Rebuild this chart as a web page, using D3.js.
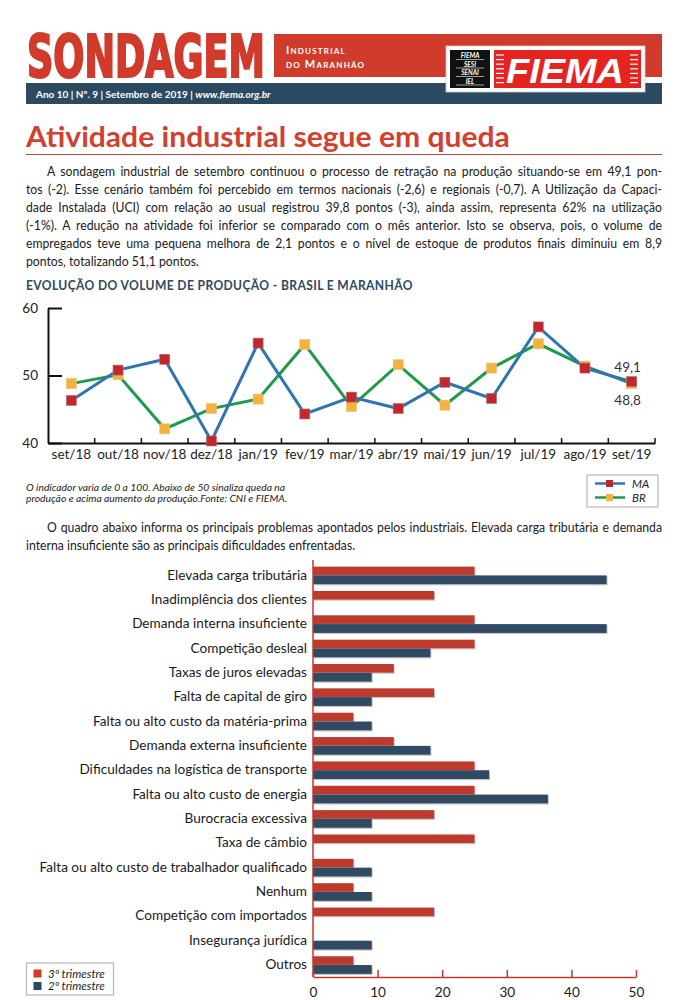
<!DOCTYPE html>
<html><head><meta charset="utf-8">
<script src="https://cdn.jsdelivr.net/npm/d3@7"></script>
<style>body{margin:0;background:#fff} svg{display:block}</style>
</head><body><svg id="c" width="678" height="1000"></svg>
<script>
// ---------- DATA ----------
const months = ["set/18","out/18","nov/18","dez/18","jan/19","fev/19","mar/19","abr/19","mai/19","jun/19","jul/19","ago/19","set/19"];
const maValues = [46.3, 50.8, 52.4, 40.3, 54.8, 44.3, 46.8, 45.1, 49.0, 46.6, 57.2, 51.1, 49.1];
const brValues = [48.8, 50.1, 42.1, 45.1, 46.5, 54.6, 45.4, 51.6, 45.6, 51.1, 54.7, 51.4, 48.8];
const lineYTicks = [40, 50, 60];
const lastLabels = ["49,1", "48,8"];
const seriesNames = ["MA", "BR"];

const problems = ["Elevada carga tributária","Inadimplência dos clientes","Demanda interna insuficiente","Competição desleal","Taxas de juros elevadas","Falta de capital de giro","Falta ou alto custo da matéria-prima","Demanda externa insuficiente","Dificuldades na logística de transporte","Falta ou alto custo de energia","Burocracia excessiva","Taxa de câmbio","Falta ou alto custo de trabalhador qualificado","Nenhum","Competição com importados","Insegurança jurídica","Outros"];
const q3Values = [25, 18.75, 25, 25, 12.5, 18.75, 6.25, 12.5, 25, 25, 18.75, 25, 6.25, 6.25, 18.75, 0, 6.25];
const q2Values = [45.45, 0, 45.45, 18.18, 9.09, 9.09, 9.09, 18.18, 27.27, 36.36, 9.09, 0, 9.09, 9.09, 0, 9.09, 9.09];
const barTicks = [0, 10, 20, 30, 40, 50];
const quarterNames = ["3º trimestre", "2º trimestre"];

const introLines = [
 "A sondagem industrial de setembro continuou o processo de retração na produção situando-se em 49,1 pon-",
 "tos (-2). Esse cenário também foi percebido em termos nacionais (-2,6) e regionais (-0,7). A Utilização da Capaci-",
 "dade Instalada (UCI) com relação ao usual registrou 39,8 pontos (-3), ainda assim, representa 62% na utilização",
 "(-1%). A redução na atividade foi inferior se comparado com o mês anterior. Isto se observa, pois, o volume de",
 "empregados teve uma pequena melhora de 2,1 pontos e o nível de estoque de produtos finais diminuiu em 8,9",
 "pontos, totalizando 51,1 pontos."
];
const quadroLines = [
 "O quadro abaixo informa os principais problemas apontados pelos industriais. Elevada carga tributária e demanda",
 "interna insuficiente são as principais dificuldades enfrentadas."
];
const captionLines = [
 "O indicador varia de 0 a 100. Abaixo de 50 sinaliza queda na",
 "produção e acima aumento da produção.Fonte: CNI e FIEMA."
];

// ---------- STYLE ----------
const RED = "#d13b2c", NAVY = "#2b4a61";
const FONT = "Lato, 'Open Sans', sans-serif";
const svg = d3.select("#c");
svg.append("rect").attr("width",678).attr("height",1000).attr("fill","#fff");

// fit a text horizontally to a width with a transform (keeps real text)
function fitText(t, x, y, width){
  const w = t.node().getComputedTextLength();
  t.attr("x",0).attr("y",0).attr("transform",`translate(${x},${y}) scale(${width/w},1)`);
  return t;
}

// ---------- HEADER ----------
const hdr = svg.append("g");
fitText(hdr.append("text").text("SONDAGEM")
  .attr("font-family","'DejaVu Sans Condensed','DejaVu Sans',sans-serif").attr("font-weight","bold")
  .attr("font-size",58).attr("fill",RED).attr("stroke",RED).attr("stroke-width",2.2), 27, 77, 238);
hdr.append("rect").attr("x",274).attr("y",34).attr("width",388).attr("height",43).attr("fill",RED);
hdr.append("rect").attr("x",26).attr("y",83).attr("width",636).attr("height",21).attr("fill",NAVY);
hdr.append("text").attr("x",286).attr("y",53.5).text("Industrial")
  .attr("font-family",FONT).attr("font-weight","bold").attr("font-size",11).attr("fill","#fff")
  .attr("font-variant","small-caps").attr("letter-spacing",1.2);
hdr.append("text").attr("x",286).attr("y",68).text("do Maranhão")
  .attr("font-family",FONT).attr("font-weight","bold").attr("font-size",11).attr("fill","#fff")
  .attr("font-variant","small-caps").attr("letter-spacing",1.2);
const sub = hdr.append("text").attr("x",36).attr("y",97.5).attr("font-family",FONT).attr("font-weight","bold")
  .attr("font-size",10).attr("fill","#fff");
sub.append("tspan").text("Ano 10 | Nº. 9 | Setembro de 2019 | ");
sub.append("tspan").attr("font-style","italic").text("www.fiema.org.br");
// FIEMA logo
hdr.append("rect").attr("x",446).attr("y",46).attr("width",199).attr("height",46).attr("fill","#fff")
  .attr("stroke","#ccc").attr("stroke-width",0.8);
hdr.append("rect").attr("x",450).attr("y",50).attr("width",40).attr("height",38).attr("fill","#111");
["FIEMA","SESI","SENAI","IEL"].forEach((t,i)=>{
  hdr.append("text").attr("x",470).attr("y",58+i*8.5).attr("text-anchor","middle").text(t)
    .attr("font-family",FONT).attr("font-weight","bold").attr("font-style","italic").attr("font-size",6.5).attr("fill","#fff");
  hdr.append("line").attr("x1",456).attr("x2",484).attr("y1",59.5+i*8.5).attr("y2",59.5+i*8.5).attr("stroke","#fff").attr("stroke-width",0.6);
});
hdr.append("rect").attr("x",494).attr("y",50).attr("width",147).attr("height",38).attr("fill","#e52421");
d3.range(7).forEach(i=>{
  const yy = 55 + i*4.6;
  hdr.append("line").attr("x1",496).attr("x2",504).attr("y1",yy).attr("y2",yy).attr("stroke","#fff").attr("stroke-width",1.2);
  hdr.append("line").attr("x1",630).attr("x2",638).attr("y1",yy).attr("y2",yy).attr("stroke","#fff").attr("stroke-width",1.2);
});
fitText(hdr.append("text").text("FIEMA")
  .attr("font-family","'Liberation Sans',Arial,sans-serif").attr("font-weight","bold").attr("font-style","italic")
  .attr("font-size",36).attr("fill","#fff"), 506, 83, 118);

// ---------- TITLE ----------
fitText(svg.append("text").text("Atividade industrial segue em queda")
  .attr("font-family",FONT).attr("font-weight","bold").attr("font-size",29).attr("fill","#d2402f"), 26, 147, 484);
svg.append("line").attr("x1",26).attr("x2",662).attr("y1",154.5).attr("y2",154.5).attr("stroke","#b5493c").attr("stroke-width",1.2);

// justified paragraphs: horizontally condensed (Calibri-like width), word-spaced to fill the column
const PSIZE = 13.6, RIGHT = 662, INDENT = 21, SQUEEZE = 0.9;
function paragraph(lines, y0, lh){
  lines.forEach((ln,i)=>{
    const x0 = i===0 ? 26+INDENT : 26;
    const t = svg.append("text").attr("x",0).attr("y",0).text(ln)
      .attr("transform",`translate(${x0},${y0+i*lh}) scale(${SQUEEZE},1)`)
      .attr("font-family",FONT).attr("font-size",PSIZE).attr("fill","#1a1a1a");
    if (i < lines.length-1){
      const w = t.node().getComputedTextLength();
      const n = (ln.match(/ /g)||[]).length;
      if (n>0) t.attr("word-spacing", ((RIGHT - x0)/SQUEEZE - w)/n);
    }
  });
}
paragraph(introLines, 176, 18);

// ---------- LINE CHART ----------
fitText(svg.append("text").text("EVOLUÇÃO DO VOLUME DE PRODUÇÃO - BRASIL E MARANHÃO")
  .attr("font-family",FONT).attr("font-weight","bold").attr("font-size",13).attr("fill","#2c4a63")
  .attr("letter-spacing",0.4), 26, 290, 387);

const x = d3.scaleBand().domain(months).range([48,655]);
const y = d3.scaleLinear().domain([40,60]).range([443,308]);
const cx = d => x(d) + x.bandwidth()/2;

const yAx = svg.append("g").attr("transform","translate(48,0)")
  .call(d3.axisLeft(y).tickValues(lineYTicks).tickSize(-14).tickSizeOuter(0).tickPadding(10).tickFormat(d3.format("d")));
yAx.select(".domain").attr("stroke","#111").attr("stroke-width",2);
yAx.selectAll(".tick line").attr("stroke","#111").attr("stroke-width",2);
yAx.selectAll("text").attr("font-family",FONT).attr("font-size",13.5).attr("fill","#222");

const xAx = svg.append("g").attr("transform","translate(0,443)")
  .call(d3.axisBottom(x).tickSize(0).tickSizeOuter(0).tickPadding(6));
xAx.select(".domain").attr("stroke","#111").attr("stroke-width",2);
xAx.selectAll("text").attr("font-family",FONT).attr("font-size",13.5).attr("fill","#222");
svg.append("g").selectAll("line").data(months.slice(1)).join("line")
  .attr("x1",d=>x(d)).attr("x2",d=>x(d)).attr("y1",443).attr("y2",438)
  .attr("stroke","#111").attr("stroke-width",1.5);
svg.append("line").attr("x1",x.range()[1]).attr("x2",x.range()[1]).attr("y1",443).attr("y2",438).attr("stroke","#111").attr("stroke-width",1.5);

const line = d3.line().x((d,i)=>cx(months[i])).y(d=>y(d));
svg.append("path").datum(brValues).attr("d",line).attr("fill","none").attr("stroke","#1f9a47").attr("stroke-width",3);
svg.append("path").datum(maValues).attr("d",line).attr("fill","none").attr("stroke","#2e74b5").attr("stroke-width",3);
const MS = 10;
svg.append("g").selectAll("rect").data(brValues).join("rect")
  .attr("x",(d,i)=>cx(months[i])-MS/2).attr("y",d=>y(d)-MS/2).attr("width",MS).attr("height",MS)
  .attr("fill","#f4b23e").attr("stroke","#e8c27a").attr("stroke-width",0.6);
svg.append("g").selectAll("rect").data(maValues).join("rect")
  .attr("x",(d,i)=>cx(months[i])-MS/2).attr("y",d=>y(d)-MS/2).attr("width",MS).attr("height",MS)
  .attr("fill","#c1272d").attr("stroke","#b07070").attr("stroke-width",0.6);

const lastI = months.length-1;
svg.append("text").attr("x",cx(months[lastI])-4).attr("y",y(maValues[lastI])-10).attr("text-anchor","middle")
  .text(lastLabels[0]).attr("font-family",FONT).attr("font-size",13.5).attr("fill","#333");
svg.append("text").attr("x",cx(months[lastI])-4).attr("y",y(brValues[lastI])+21).attr("text-anchor","middle")
  .text(lastLabels[1]).attr("font-family",FONT).attr("font-size",13.5).attr("fill","#333");

// caption
captionLines.forEach((t,i)=>{
  svg.append("text").attr("x",26).attr("y",491+i*11).text(t)
    .attr("font-family",FONT).attr("font-style","italic").attr("font-size",10.3).attr("fill","#222");
});
// legend
const lg = svg.append("g");
lg.append("rect").attr("x",587).attr("y",475).attr("width",71).attr("height",32).attr("fill","#fff")
  .attr("stroke","#b8b8b8").attr("stroke-width",1.2);
[["#2e74b5","#c1272d"],["#1f9a47","#f4b23e"]].forEach((c,i)=>{
  const yy = 483.5 + i*14;
  lg.append("line").attr("x1",595).attr("x2",625).attr("y1",yy).attr("y2",yy).attr("stroke",c[0]).attr("stroke-width",2.5);
  lg.append("rect").attr("x",606).attr("y",yy-3.5).attr("width",7).attr("height",7).attr("fill",c[1]);
  lg.append("text").attr("x",632).attr("y",yy+4).text(seriesNames[i])
    .attr("font-family",FONT).attr("font-style","italic").attr("font-size",11.5).attr("fill","#222");
});

paragraph(quadroLines, 532, 18);

// ---------- BAR CHART ----------
const yb = d3.scaleBand().domain(problems).range([563,977]);
const xb = d3.scaleLinear().domain([0,50]).range([313,636]);
const bars = svg.append("g");
function barSet(vals, off, h, color){
  bars.append("g").selectAll("rect.s").data(vals).join("rect")
    .attr("x",xb(0)+1).attr("y",(d,i)=>yb(problems[i])+off+1.2)
    .attr("width",d=> d>0 ? xb(d)-xb(0) : 0).attr("height",h).attr("fill","#c8c8c8");
  bars.append("g").selectAll("rect.b").data(vals).join("rect")
    .attr("x",xb(0)).attr("y",(d,i)=>yb(problems[i])+off)
    .attr("width",d=>xb(d)-xb(0)).attr("height",h).attr("fill",color);
}
barSet(q3Values, 3.6, 8.6, "#bd3a2d");
barSet(q2Values, 12.4, 8.8, "#2f4a62");

const ybAx = svg.append("g").attr("transform","translate(313,0)")
  .call(d3.axisLeft(yb).tickSize(0).tickSizeOuter(0).tickPadding(6));
ybAx.select(".domain").attr("stroke","#c0392b").attr("stroke-width",1.5).attr("d","M0,560V977");
ybAx.selectAll("text").attr("font-family",FONT).attr("font-size",13.6).attr("fill","#1a1a1a");

const xbAx = svg.append("g").attr("transform","translate(0,977)")
  .call(d3.axisBottom(xb).tickValues(barTicks).tickSize(-7).tickSizeOuter(0).tickPadding(10).tickFormat(d3.format("d")));
xbAx.select(".domain").attr("stroke","#c0392b").attr("stroke-width",1.5);
xbAx.selectAll(".tick line").attr("stroke","#c0392b").attr("stroke-width",1.5);
xbAx.selectAll("text").attr("font-family",FONT).attr("font-size",13.6).attr("fill","#1a1a1a");

// bar legend
const bl = svg.append("g");
bl.append("rect").attr("x",26.5).attr("y",963).attr("width",87).attr("height",32).attr("fill","#fff")
  .attr("stroke","#b8b8b8").attr("stroke-width",1.2);
["#d13b2c","#2b4a61"].forEach((c,i)=>{
  const yy = 973.5 + i*12.5;
  bl.append("rect").attr("x",33.5).attr("y",yy-4).attr("width",8).attr("height",8).attr("fill",c);
  bl.append("text").attr("x",48).attr("y",yy+4).text(quarterNames[i])
    .attr("font-family",FONT).attr("font-style","italic").attr("font-size",11.5).attr("fill","#222");
});
</script></body></html>
